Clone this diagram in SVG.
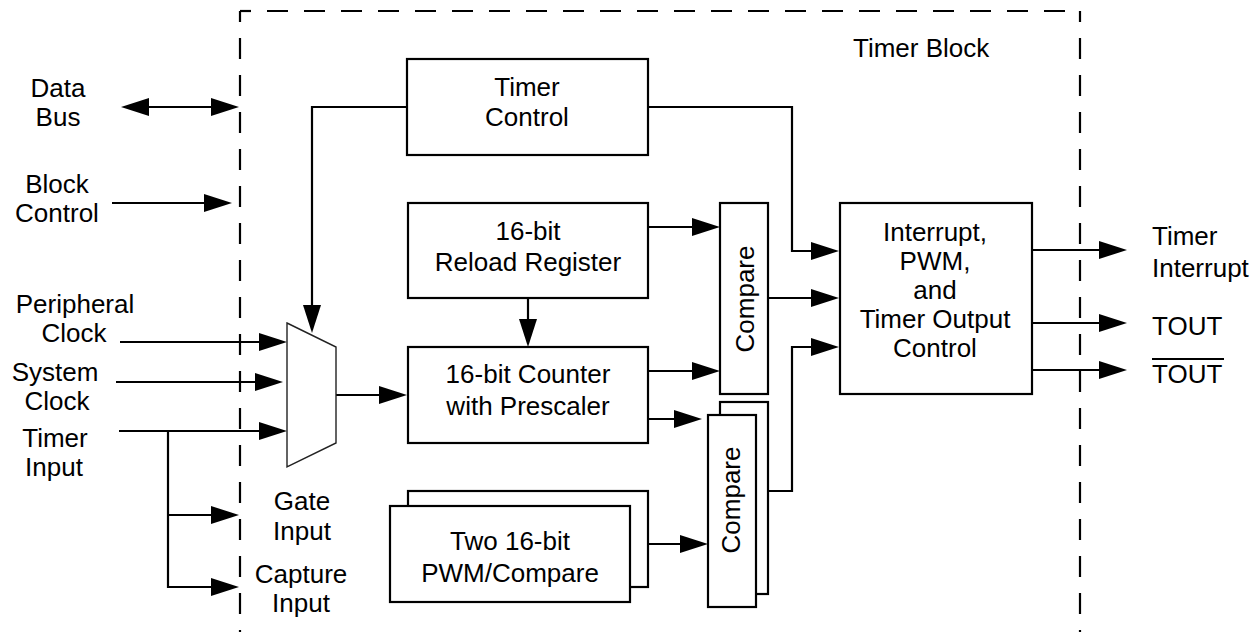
<svg xmlns="http://www.w3.org/2000/svg" width="1258" height="632" viewBox="0 0 1258 632">
<style>
text{font-family:"Liberation Sans",Arial,Helvetica,sans-serif;font-size:26px;fill:#000}
.m{text-anchor:middle}
.box{fill:#fff;stroke:#000;stroke-width:2.2}
.w{fill:none;stroke:#000;stroke-width:2.2}
.a{marker-end:url(#ah)}
.dash{fill:none;stroke:#000;stroke-width:2.2;stroke-dasharray:21 16;stroke-dashoffset:10}
</style>
<defs>
<marker id="ah" markerUnits="userSpaceOnUse" markerWidth="28" markerHeight="18" refX="18" refY="9" orient="auto-start-reverse" viewBox="0 0 28 18">
<path d="M0,0 L28,9 L0,18 Z" fill="#000"/>
</marker>
</defs>
<rect width="1258" height="632" fill="#fff"/>
<g id="timer-block">
<path class="dash" d="M240,11 H1080"/>
<path class="dash" d="M240,11 V632"/>
<path class="dash" d="M1080,11 V632"/>
<text x="853" y="57">Timer Block</text>
</g>
<g id="connectors">
<path class="w a" d="M131,107 H229" marker-start="url(#ah)"/>
<path class="w a" d="M112,203 H222"/>
<path class="w a" d="M120,342 H277"/>
<path class="w a" d="M116,382 H273"/>
<path class="w a" d="M119,431 H277"/>
<path class="w a" d="M168,431 V587 H229"/>
<path class="w a" d="M168,515 H229"/>
<path class="w a" d="M407,107 H312 V323"/>
<path class="w a" d="M336,395 H397"/>
<path class="w a" d="M528,298 V337"/>
<path class="w a" d="M648,227 H710"/>
<path class="w a" d="M648,371 H710"/>
<path class="w a" d="M648,419 H692"/>
<path class="w a" d="M648,544 H698"/>
<path class="w a" d="M648,107 H792 V251 H829"/>
<path class="w a" d="M768,298 H829"/>
<path class="w a" d="M768,491 H792 V347 H829"/>
<path class="w a" d="M1032,250 H1117"/>
<path class="w a" d="M1032,323 H1117"/>
<path class="w a" d="M1032,370 H1117"/>
</g>
<g id="label-data-bus"><text class="m" x="58" y="97">Data</text><text class="m" x="58" y="126">Bus</text></g>
<g id="label-block-control"><text class="m" x="57" y="193">Block</text><text class="m" x="57" y="222">Control</text></g>
<g id="label-peripheral-clock"><text class="m" x="75" y="313">Peripheral</text><text class="m" x="74" y="342">Clock</text></g>
<g id="label-system-clock"><text class="m" x="55" y="381">System</text><text class="m" x="57" y="410">Clock</text></g>
<g id="label-timer-input"><text class="m" x="55" y="447">Timer</text><text class="m" x="54" y="476">Input</text></g>
<g id="label-gate-input"><text class="m" x="302" y="510">Gate</text><text class="m" x="302" y="540">Input</text></g>
<g id="label-capture-input"><text class="m" x="301" y="583">Capture</text><text class="m" x="301" y="612">Input</text></g>
<g id="mux"><polygon points="287,323 336,347 336,443 287,467" fill="#fff" stroke="#222" stroke-width="1.4"/></g>
<g id="timer-control"><rect class="box" x="407" y="59" width="241" height="96"/><text class="m" x="527" y="96">Timer</text><text class="m" x="527" y="126">Control</text></g>
<g id="reload-register"><rect class="box" x="408" y="203" width="240" height="95"/><text class="m" x="528" y="240">16-bit</text><text class="m" x="528" y="271">Reload Register</text></g>
<g id="counter"><rect class="box" x="408" y="347" width="240" height="96"/><text class="m" x="528" y="383">16-bit Counter</text><text class="m" x="528" y="415">with Prescaler</text></g>
<g id="pwm-compare"><rect class="box" x="408" y="491" width="240" height="96"/><rect class="box" x="390" y="506" width="240" height="96"/><text class="m" x="510" y="550">Two 16-bit</text><text class="m" x="510" y="582">PWM/Compare</text></g>
<g id="compare-1"><rect class="box" x="720" y="203" width="48" height="191"/><text class="m" transform="translate(754,299) rotate(-90)">Compare</text></g>
<g id="compare-2"><rect class="box" x="720" y="402" width="48" height="192"/><rect class="box" x="708" y="415" width="48" height="192"/><text class="m" transform="translate(740,500) rotate(-90)">Compare</text></g>
<g id="interrupt-control"><rect class="box" x="840" y="203" width="192" height="191"/>
<text class="m" x="935" y="241">Interrupt,</text><text class="m" x="935" y="270">PWM,</text><text class="m" x="935" y="299">and</text><text class="m" x="935" y="328">Timer Output</text><text class="m" x="935" y="357">Control</text></g>
<g id="label-timer-interrupt"><text x="1152" y="245">Timer</text><text x="1152" y="277">Interrupt</text></g>
<g id="label-tout"><text x="1152" y="335">TOUT</text></g>
<g id="label-tout-bar"><text x="1152" y="383">TOUT</text><line x1="1152" y1="359" x2="1224" y2="359" stroke="#000" stroke-width="2"/></g>
</svg>
